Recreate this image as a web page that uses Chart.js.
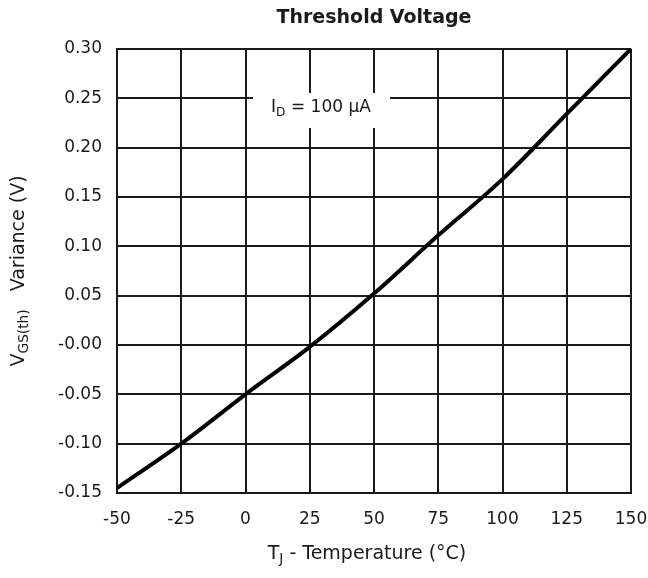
<!DOCTYPE html>
<html>
<head>
<meta charset="utf-8">
<script src="https://cdn.jsdelivr.net/npm/chart.js@4/dist/chart.umd.min.js"></script>
<style>
  html, body { margin: 0; padding: 0; background: #fff; }
  #wrap { width: 648px; height: 578px; }
</style>
</head>
<body>
<div id="wrap"><canvas id="chart" width="648" height="578"></canvas></div>
<script>
// data
var temps = [-50, -25, 0, 25, 50, 75, 100, 125, 150]
var vgsVariance = [-0.145, -0.100, -0.050, -0.002, 0.052, 0.111, 0.168, 0.234, 0.300]
var yTickValues = [-0.15, -0.10, -0.05, 0, 0.05, 0.10, 0.15, 0.20, 0.25, 0.30]
var yTickLabels = ['-0.15', '-0.10', '-0.05', '-0.00', '0.05', '0.10', '0.15', '0.20', '0.25', '0.30']
var xTickLabels = ['-50', '-25', '0', '25', '50', '75', '100', '125', '150']

var FONT = '"DejaVu Sans", Arial, sans-serif'

// draw text with a subscript part: parts = [[text, isSub], ...]
function subText(ctx, parts, x, y, size) {
  var total = 0
  parts.forEach(function(p) {
    ctx.font = (p[1] ? size * 0.72 : size) + 'px ' + FONT
    total += ctx.measureText(p[0]).width
  })
  var cx = x - total / 2
  parts.forEach(function(p) {
    ctx.font = (p[1] ? size * 0.72 : size) + 'px ' + FONT
    ctx.fillText(p[0], cx, p[1] ? y + size * 0.3 : y)
    cx += ctx.measureText(p[0]).width
  })
}

var extras = {
  id: 'extras',
  afterDatasetsDraw: function(chart) {
    var ctx = chart.ctx
    var xs = chart.scales.x, ys = chart.scales.y
    ctx.save()
    // label box over the grid
    ctx.fillStyle = '#fff'
    ctx.fillRect(253, 93, 137, 35)
    ctx.fillStyle = '#1a1a1a'
    ctx.textBaseline = 'middle'
    ctx.textAlign = 'left'
    subText(ctx, [['I', false], ['D', true], [' = 100 \u00b5A', false]], 321, 108, 17)
    // x title
    subText(ctx, [['T', false], ['J', true], [' - Temperature (\u00b0C)', false]], (xs.left + xs.right) / 2 - 7, 554, 19)
    // y title, rotated
    ctx.translate(19, (ys.top + ys.bottom) / 2)
    ctx.rotate(-Math.PI / 2)
    subText(ctx, [['V', false], ['GS(th)', true], ['   Variance (V)', false]], 0, 0, 19)
    ctx.restore()
  }
}

var ctx = document.getElementById('chart').getContext('2d')
var chart = new Chart(ctx, {
  type: 'line',
  data: {
    datasets: [{
      data: temps.map(function(t, i) { return {x: t, y: vgsVariance[i]} }),
      borderColor: '#000',
      borderWidth: 4,
      pointRadius: 0,
      cubicInterpolationMode: 'monotone',
      fill: false
    }]
  },
  options: {
    responsive: false,
    animation: false,
    layout: { padding: { left: 0, right: 17, top: 0, bottom: 0 } },
    plugins: {
      legend: { display: false },
      tooltip: { enabled: false },
      title: {
        display: true,
        text: 'Threshold Voltage',
        fullSize: false,
        color: '#1a1a1a',
        font: { family: FONT, size: 19, weight: 'bold', lineHeight: 1.2 },
        padding: { top: 7, bottom: 19 }
      }
    },
    scales: {
      x: {
        type: 'linear',
        min: -50, max: 150,
        afterBuildTicks: function(s) { s.ticks = temps.map(function(v) { return {value: v} }) },
        afterFit: function(s) { s.height = 85; s.paddingLeft = 0; s.paddingRight = 0 },
        ticks: {
          color: '#1a1a1a', padding: 16,
          font: { family: FONT, size: 17 },
          callback: function(v, i) { return xTickLabels[i] }
        },
        grid: { color: '#1a1a1a', lineWidth: 2, drawTicks: false },
        border: { color: '#1a1a1a', width: 2 }
      },
      y: {
        type: 'linear',
        min: -0.15, max: 0.30,
        afterBuildTicks: function(s) { s.ticks = yTickValues.map(function(v) { return {value: v} }) },
        afterFit: function(s) { s.width = 117; s.paddingTop = 0; s.paddingBottom = 0 },
        ticks: {
          color: '#1a1a1a', padding: 15,
          font: { family: FONT, size: 17 },
          callback: function(v, i) { return yTickLabels[i] }
        },
        grid: { color: '#1a1a1a', lineWidth: 2, drawTicks: false },
        border: { color: '#1a1a1a', width: 2 }
      }
    }
  },
  plugins: [extras]
})
</script>
</body>
</html>
